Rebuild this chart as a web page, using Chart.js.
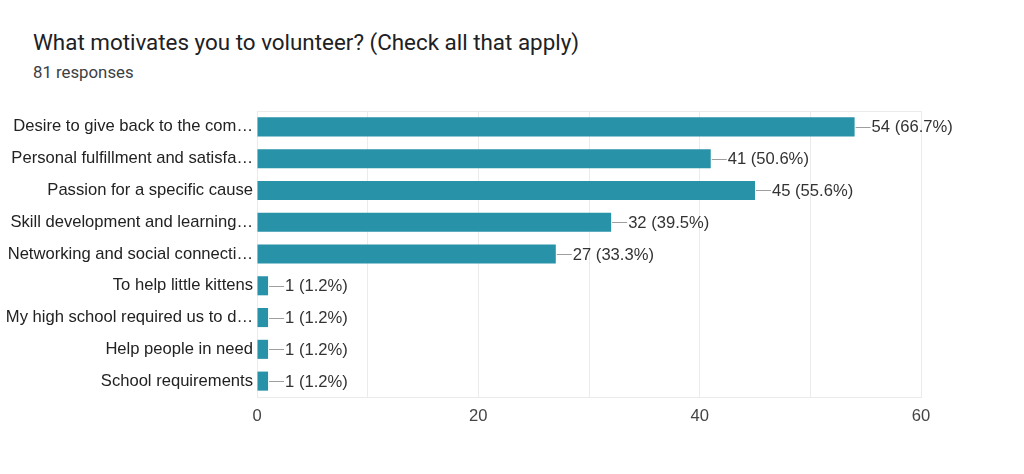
<!DOCTYPE html>
<html>
<head>
<meta charset="utf-8">
<script src="https://cdn.jsdelivr.net/npm/chart.js@4.4.1/dist/chart.umd.min.js"></script>
<style>
  html, body { margin: 0; padding: 0; background: #fff; }
  #wrap { position: relative; width: 1024px; height: 474px; overflow: hidden; }
  #title { position: absolute; left: 33px; top: 29px; font-family: Roboto, Arial, sans-serif; font-size: 22.4px; color: #202124; white-space: nowrap; }
  #sub { position: absolute; left: 33px; top: 62px; font-family: Roboto, Arial, sans-serif; font-size: 16.8px; color: #3c4043; white-space: nowrap; }
  canvas { position: absolute; left: 0; top: 0; }
</style>
</head>
<body>
<div id="wrap">
  <div id="title">What motivates you to volunteer? (Check all that apply)</div>
  <div id="sub">81 responses</div>
  <canvas id="c" width="1024" height="474"></canvas>
</div>
<script>
const categories = [
  "Desire to give back to the com…",
  "Personal fulfillment and satisfa…",
  "Passion for a specific cause",
  "Skill development and learning…",
  "Networking and social connecti…",
  "To help little kittens",
  "My high school required us to d…",
  "Help people in need",
  "School requirements"
];
const counts = [54, 41, 45, 32, 27, 1, 1, 1, 1];
const percents = ["66.7%", "50.6%", "55.6%", "39.5%", "33.3%", "1.2%", "1.2%", "1.2%", "1.2%"];
const xTickLabels = ["0", "20", "40", "60"];

const barColor = "#2792a8";
const chartFont = "Arial, 'Liberation Sans', sans-serif";

const valueLabels = {
  id: "valueLabels",
  afterDatasetsDraw(chart) {
    const ctx = chart.ctx;
    const meta = chart.getDatasetMeta(0);
    ctx.save();
    ctx.font = "16.6px " + chartFont;
    ctx.textBaseline = "middle";
    ctx.textAlign = "left";
    meta.data.forEach((bar, i) => {
      const x = bar.x, y = bar.y;
      ctx.strokeStyle = "#9e9e9e";
      ctx.lineWidth = 1;
      ctx.beginPath();
      ctx.moveTo(x + 1, Math.round(y) + 0.5);
      ctx.lineTo(x + 16, Math.round(y) + 0.5);
      ctx.stroke();
      ctx.fillStyle = "#333333";
      ctx.fillText(counts[i] + " (" + percents[i] + ")", x + 17, y + 1);
    });
    ctx.restore();
  }
};

const frame = {
  id: "frame",
  beforeDatasetsDraw(chart) {
    const a = chart.chartArea, ctx = chart.ctx;
    ctx.save();
    ctx.strokeStyle = "#ebebeb";
    ctx.lineWidth = 1;
    ctx.strokeRect(Math.round(a.left) + 0.5, Math.round(a.top) + 0.5, Math.round(a.right - a.left), Math.round(a.bottom - a.top));
    ctx.restore();
  }
};

new Chart(document.getElementById("c"), {
  type: "bar",
  data: {
    labels: categories,
    datasets: [{
      data: counts,
      backgroundColor: barColor,
      borderWidth: 0,
      barPercentage: 0.6,
      categoryPercentage: 1.0
    }]
  },
  options: {
    indexAxis: "y",
    responsive: false,
    animation: false,
    layout: { padding: { top: 111, right: 103, bottom: 0, left: 0 } },
    plugins: { legend: { display: false }, tooltip: { enabled: false } },
    scales: {
      x: {
        min: 0, max: 60,
        ticks: {
          stepSize: 10,
          autoSkip: false,
          maxRotation: 0,
          padding: 9,
          color: "#444444",
          font: { family: chartFont, size: 16.6 },
          callback: (v) => (v % 20 === 0 ? xTickLabels[v / 20] : "")
        },
        grid: { color: "#ebebeb", drawTicks: false },
        border: { color: "#ebebeb" },
        afterFit: (s) => { s.height = 77; }
      },
      y: {
        ticks: {
          padding: 4,
          color: "#222222",
          autoSkip: false,
          font: { family: chartFont, size: 16.6 }
        },
        grid: { display: false, drawTicks: false },
        border: { color: "#333333", width: 1 },
        afterFit: (s) => { s.width = 257; }
      }
    }
  },
  plugins: [frame, valueLabels]
});
</script>
</body>
</html>
